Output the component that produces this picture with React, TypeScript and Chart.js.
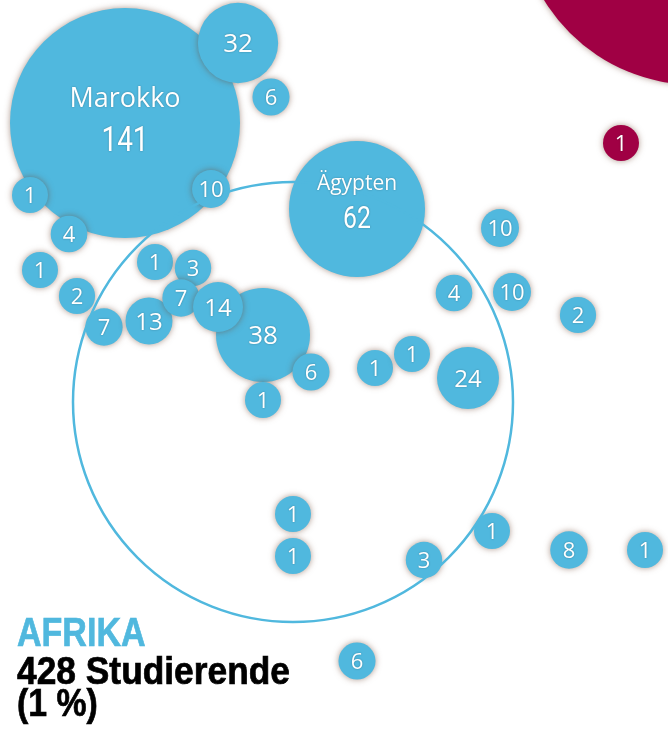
import React, { useEffect, useRef } from 'react';
import Chart from 'chart.js/auto';

// Countries of Africa (blue bubbles)
const afrikaNames = ['Marokko', '', '', '', '', '', '', '', '', '', '', '', '', '', '', '', '', 'Ägypten', '', '', '', '', '', '', '', '', '', '', '', '', '', ''];
const afrikaValues = [141, 32, 6, 10, 1, 4, 1, 2, 7, 13, 1, 3, 38, 7, 14, 6, 1, 62, 10, 4, 10, 2, 1, 1, 24, 1, 1, 3, 1, 8, 1, 6];
const afrikaX = [125, 238, 271, 211, 30, 69, 40, 77, 104, 149, 155, 193, 263, 181, 218, 311, 263, 357, 500, 454, 512, 578, 375, 412, 468, 293, 293, 424, 492, 569, 645, 357];
const afrikaY = [123, 43, 97, 189, 195, 234, 270, 296, 327, 321, 262, 268, 335, 298, 307, 372, 400, 209, 228, 293, 292, 315, 368, 354, 378, 514, 556, 560, 531, 550, 550, 661];

// Neighbouring continent (magenta bubbles)
const otherNames = ['', ''];
const otherValues = [310, 1];
const otherX = [695, 621];
const otherY = [-92, 143];

// Continent total (outline)
const continentName = 'AFRIKA';
const continentTotal = 428;
const continentShare = '1 %';
const continentX = [293];
const continentY = [402];

// value -> radius scale (piecewise)
const rDomain = [1, 10, 14, 24, 38, 62, 141, 428];
const rRange = [18, 19, 25, 31, 47, 68, 115, 220];
function radiusScale(v: number): number {
  for (let i = 1; i < rDomain.length; i++) {
    if (v <= rDomain[i]) {
      const t = (v - rDomain[i - 1]) / (rDomain[i] - rDomain[i - 1]);
      return rRange[i - 1] + t * (rRange[i] - rRange[i - 1]);
    }
  }
  const n = rDomain.length - 1;
  return rRange[n] + (v - rDomain[n]) * (rRange[n] - rRange[n - 1]) / (rDomain[n] - rDomain[n - 1]);
}

const BLUE = 'rgb(80,184,222)';
const MAGENTA = '#a00044';

const shadowPlugin = {
  id: 'bubbleShadow',
  beforeDatasetDraw(chart: any, args: any) {
    const ds = chart.data.datasets[args.index];
    if (ds.shadow) {
      const ctx = chart.ctx;
      ctx.save();
      ctx.shadowColor = 'rgba(110,70,50,0.55)';
      ctx.shadowBlur = 6;
    }
  },
  afterDatasetDraw(chart: any, args: any) {
    const ds = chart.data.datasets[args.index];
    if (ds.shadow) chart.ctx.restore();
  },
};

const labelPlugin = {
  id: 'bubbleLabels',
  afterDatasetsDraw(chart: any) {
    const ctx = chart.ctx;
    chart.data.datasets.forEach((ds: any, di: number) => {
      if (!ds.labelled) return;
      const meta = chart.getDatasetMeta(di);
      meta.data.forEach((el: any, i: number) => {
        const raw = ds.data[i];
        if (raw.v > 200) return;
        const r = raw.r;
        ctx.save();
        ctx.fillStyle = '#ffffff';
        ctx.textAlign = 'center';
        ctx.textBaseline = 'alphabetic';
        ctx.shadowColor = 'rgba(0,0,0,0.3)';
        ctx.shadowBlur = 2;
        if (raw.name) {
          const ns = Math.round(12 + r * 0.13);
          const vs = Math.round(26 + r * 0.08);
          const nameMid = el.y - 26;
          const valMid = nameMid + 22 + 0.17 * r;
          ctx.font = `${ns}px "Open Sans", sans-serif`;
          ctx.fillText(raw.name, el.x, nameMid + 0.357 * ns);
          ctx.font = `${vs}px Roboto, "Open Sans", sans-serif`;
          ctx.translate(el.x, valMid + 0.355 * vs);
          ctx.scale(0.8, 1);
          ctx.fillText(String(raw.v), 0, 0);
        } else {
          const vs = r > 40 ? 26 : r > 22 ? 24 : 22;
          ctx.font = `${vs}px "Open Sans", sans-serif`;
          ctx.fillText(String(raw.v), el.x, el.y + 0.36 * vs);
        }
        ctx.restore();
      });
    });
  },
};

export default function App() {
  const ref = useRef<HTMLCanvasElement>(null);
  useEffect(() => {
    document.body.style.margin = '0';
    const toPoints = (names: string[], vals: number[], xs: number[], ys: number[]) =>
      vals.map((v, i) => ({ x: xs[i], y: ys[i], r: radiusScale(v), v, name: names[i] }));
    const chart = new Chart(ref.current!, {
      type: 'bubble',
      data: {
        datasets: [
          {
            label: continentName,
            data: [{ x: continentX[0], y: continentY[0], r: radiusScale(continentTotal), v: continentTotal }],
            backgroundColor: 'rgba(0,0,0,0)',
            borderColor: BLUE,
            borderWidth: 2.5,
            clip: false,
          } as any,
          {
            label: 'Afrika',
            data: toPoints(afrikaNames, afrikaValues, afrikaX, afrikaY),
            backgroundColor: BLUE,
            borderWidth: 0,
            clip: false,
            shadow: true,
            labelled: true,
          } as any,
          {
            label: 'Andere',
            data: toPoints(otherNames, otherValues, otherX, otherY),
            backgroundColor: MAGENTA,
            borderWidth: 0,
            clip: false,
            shadow: true,
            labelled: true,
          } as any,
        ],
      },
      options: {
        animation: false,
        responsive: false,
        events: [],
        layout: { padding: 0, autoPadding: false },
        plugins: { legend: { display: false }, tooltip: { enabled: false } },
        scales: {
          x: { type: 'linear', min: 0, max: 668, display: false },
          y: { type: 'linear', min: 0, max: 730, reverse: true, display: false },
        },
      } as any,
      plugins: [shadowPlugin, labelPlugin],
    });
    return () => chart.destroy();
  }, []);

  const font = '"Liberation Sans", Arial, sans-serif';
  const line = (top: number, size: number, sx: number, color: string) => ({
    position: 'absolute' as const, left: 17, top, fontFamily: font, fontWeight: 700, fontSize: size,
    lineHeight: `${size}px`, color, whiteSpace: 'nowrap' as const, transform: `scaleX(${sx})`, transformOrigin: 'left top',
    WebkitTextStroke: `0.7px ${color}`,
  });
  return (
    <div style={{ position: 'relative', width: 668, height: 730, overflow: 'hidden', background: '#fff' }}>
      <canvas ref={ref} width={668} height={730} style={{ display: 'block' }} />
      <div style={line(612, 41, 0.83, BLUE)}>{continentName}</div>
      <div style={line(652, 38, 0.93, '#000')}>{continentTotal} Studierende</div>
      <div style={line(684, 38, 0.89, '#000')}>({continentShare})</div>
    </div>
  );
}
